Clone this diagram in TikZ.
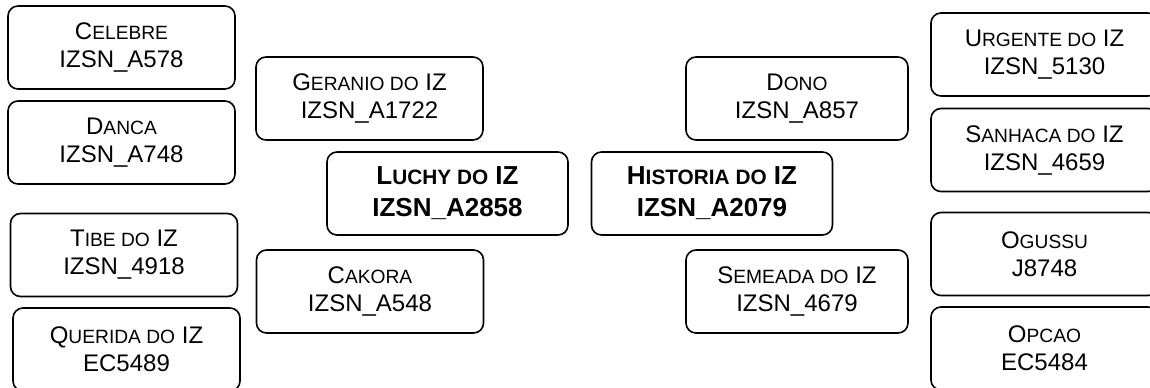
\documentclass[tikz,border=0pt]{standalone}
\usepackage{fontspec}
\setmainfont{Liberation Sans}
\usepackage{tikz}
\newcommand{\smcap}[2][14.4pt]{{\fontsize{#1}{21pt}\selectfont #2}}

\begin{document}
\begin{tikzpicture}[x=0.75pt, y=-0.75pt,
	every node/.style={font=\fontsize{18pt}{21pt}\selectfont},
	card/.style={draw, line width=1.2pt, rounded corners=7.5pt, align=center, minimum width=170.25pt, minimum height=62.25pt, inner sep=0pt},
	maincard/.style={card, minimum width=180.75pt, font=\fontsize{19.5pt}{24pt}\selectfont\bfseries}]
	\useasboundingbox (0,0) rectangle (1150,387);
	\clip (0,0) rectangle (1150,387);
	\node[card] (celebre) at (121.5,47.5) {C\smcap{ELEBRE}\\IZSN\_A578};
	\node[card] (danca) at (121.5,142.5) {D\smcap{ANCA}\\IZSN\_A748};
	\node[card] (tibe) at (124,255) {T\smcap{IBE DO} IZ\\IZSN\_4918};
	\node[card] (querida) at (126.5,349.5) {Q\smcap{UERIDA DO} IZ\\EC5489};
	\node[card] (geranio) at (369.5,98.5) {G\smcap{ERANIO DO} IZ\\IZSN\_A1722};
	\node[maincard] (luchy) at (447.5,193.5) {L\smcap[15.6pt]{UCHY DO} IZ\\IZSN\_A2858};
	\node[card] (cakora) at (370,291.5) {C\smcap{AKORA}\\IZSN\_A548};
	\node[maincard] (historia) at (712,193.5) {H\smcap[15.6pt]{ISTORIA DO} IZ\\IZSN\_A2079};
	\node[card, minimum width=166.5pt] (dono) at (797,98.5) {D\smcap{ONO}\\IZSN\_A857};
	\node[card, minimum width=166.5pt] (semeada) at (797,291.5) {S\smcap{EMEADA DO} IZ\\IZSN\_4679};
	\node[card] (urgente) at (1044.5,54.5) {U\smcap{RGENTE DO} IZ\\IZSN\_5130};
	\node[card] (sanhaca) at (1044.5,150) {S\smcap{ANHACA DO} IZ\\IZSN\_4659};
	\node[card] (ogussu) at (1044.5,254) {O\smcap{GUSSU}\\J8748};
	\node[card] (opcao) at (1044.5,348.5) {O\smcap{PCAO}\\EC5484};
\end{tikzpicture}
\end{document}
